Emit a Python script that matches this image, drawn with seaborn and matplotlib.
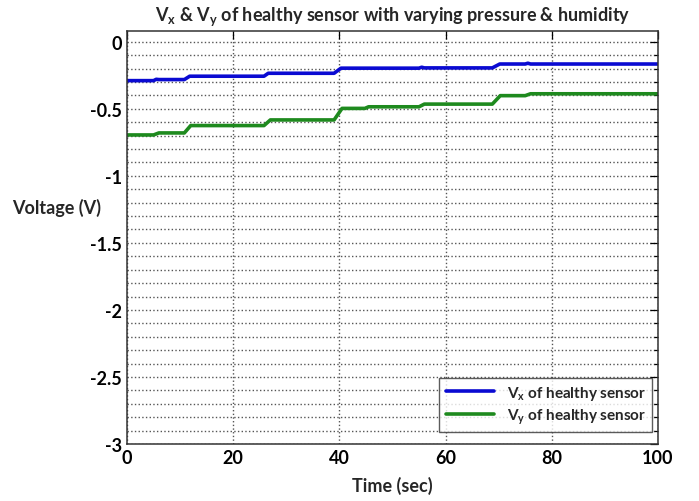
import matplotlib
matplotlib.use("Agg")
import matplotlib.pyplot as plt
from matplotlib.ticker import MultipleLocator
import seaborn as sns
import pandas as pd

# Data
time_vx = [0, 5.0, 5.5, 6.0, 6.5, 10.8, 11.8, 25.8, 26.6, 39.0, 40.3, 55.0, 55.5, 56.0, 68.8, 70.2, 75.0, 75.5, 76.0, 100]
volt_vx = [-0.290, -0.290, -0.280, -0.282, -0.282, -0.282, -0.257, -0.257, -0.235, -0.235, -0.197, -0.197, -0.190, -0.195, -0.195, -0.166, -0.166, -0.160, -0.166, -0.166]

time_vy = [0, 5.0, 6.0, 10.8, 12.0, 25.8, 27.0, 39.0, 40.5, 44.8, 45.5, 55.0, 56.0, 68.8, 70.3, 75.0, 76.0, 100]
volt_vy = [-0.695, -0.695, -0.680, -0.680, -0.625, -0.625, -0.583, -0.583, -0.497, -0.497, -0.485, -0.485, -0.465, -0.465, -0.402, -0.402, -0.388, -0.388]

series_names = ["V$_\\mathbf{x}$ of healthy sensor", "V$_\\mathbf{y}$ of healthy sensor"]
series_colors = ["#0a0ad2", "#1e8a1e"]

x_ticks = [0, 20, 40, 60, 80, 100]
y_ticks = [0, -0.5, -1, -1.5, -2, -2.5, -3]
y_tick_labels = ["0", "-0.5", "-1", "-1.5", "-2", "-2.5", "-3"]

df = pd.concat([
    pd.DataFrame({"Time": time_vx, "Voltage": volt_vx, "Series": series_names[0]}),
    pd.DataFrame({"Time": time_vy, "Voltage": volt_vy, "Series": series_names[1]}),
], ignore_index=True)

sns.set_style("white")
plt.rcParams["font.family"] = ["Lato", "DejaVu Sans"]
plt.rcParams["mathtext.fontset"] = "custom"
plt.rcParams["mathtext.bf"] = "Lato:bold"
plt.rcParams["mathtext.rm"] = "Lato:bold"

fig = plt.figure(figsize=(6.99, 5.02), dpi=100)
ax = fig.add_axes([0.1817, 0.1135, 0.7596, 0.8227])

sns.lineplot(data=df, x="Time", y="Voltage", hue="Series", palette=series_colors,
             linewidth=2.6, ax=ax, estimator=None, sort=False)

ax.set_xlim(0, 100)
ax.set_xticks(x_ticks)
ax.set_yticks(y_ticks)
ax.set_yticklabels(y_tick_labels)
ax.yaxis.set_minor_locator(MultipleLocator(0.1))
ax.set_ylim(-3, 0.08)

ax.grid(which="major", axis="x", linestyle=":", color="#555555", linewidth=1.0)
ax.grid(which="both", axis="y", linestyle=":", color="#555555", linewidth=1.0)

ax.tick_params(which="both", direction="in", top=True, right=True, labelsize=13, width=0.9, colors="black")
ax.tick_params(which="major", length=6)
ax.tick_params(which="minor", length=3)
for lab in ax.get_xticklabels() + ax.get_yticklabels():
    lab.set_fontweight("bold")
for s in ax.spines.values():
    s.set_color("#333333")
    s.set_linewidth(1.1)

ax.set_title("V$_\\mathbf{x}$ & V$_\\mathbf{y}$ of healthy sensor with varying pressure & humidity",
             fontsize=13, fontweight="bold", pad=8)
ax.set_xlabel("Time (sec)", fontsize=13, fontweight="bold", labelpad=7)
ax.set_ylabel("Voltage (V)", fontsize=13, fontweight="bold", rotation=0, ha="center", va="center")
ax.yaxis.set_label_coords(-0.132, 0.574)

leg = ax.legend(loc="lower right", fontsize=11, frameon=True, fancybox=False,
                edgecolor="#333333", handlelength=3.2, borderpad=0.4,
                labelspacing=0.3, borderaxespad=0, bbox_to_anchor=(0.989, 0.029))
leg.get_frame().set_linewidth(1.0)
for t in leg.get_texts():
    t.set_fontweight("bold")
for l in leg.get_lines():
    l.set_linewidth(2.6)

fig.savefig("out.png", dpi=100, facecolor="white")
